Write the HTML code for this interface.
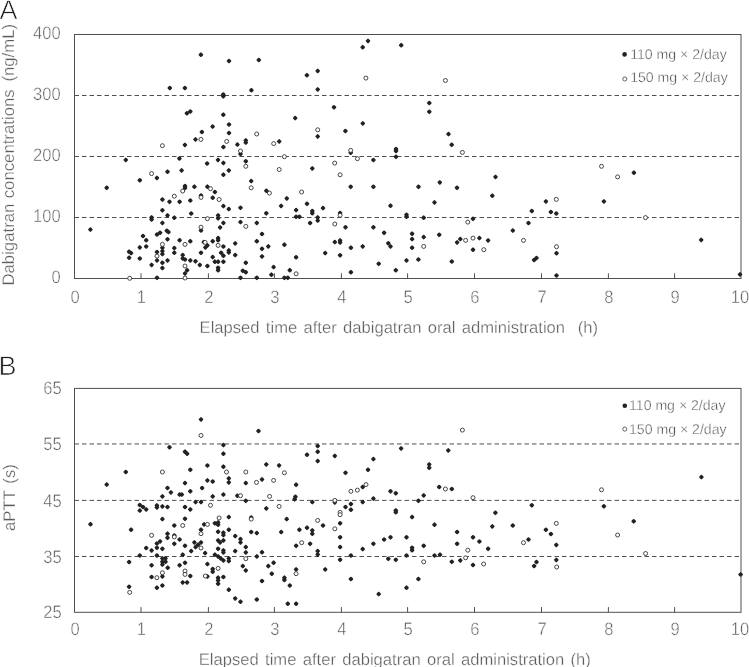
<!DOCTYPE html>
<html><head><meta charset="utf-8"><title>Figure</title>
<style>
html,body{margin:0;padding:0;background:#fff;}
svg{display:block;will-change:transform;}
text{white-space:pre;text-rendering:geometricPrecision;font-family:"Liberation Sans",sans-serif;fill:#5c5c5c;stroke:#fff;stroke-width:0.42px;paint-order:fill stroke;}
.t16{font-size:16.6px}
.t17{font-size:16.75px;stroke-width:0.3px}
.t17x{font-size:16.6px;word-spacing:1.7px;stroke-width:0.3px}
.t13{font-size:14.1px;fill:#3c3c3c}
.big{font-size:27px;fill:#1c1c1c;stroke-width:0.7px}
</style></head><body>
<svg width="749" height="667" viewBox="0 0 749 667">
<rect width="749" height="667" fill="#fff"/>
<g stroke="#505050" stroke-width="1" fill="none">
<line x1="74.5" y1="95.5" x2="741.0" y2="95.5" stroke-dasharray="4.5 3"/>
<line x1="74.5" y1="156.5" x2="741.0" y2="156.5" stroke-dasharray="4.5 3"/>
<line x1="74.5" y1="217.5" x2="741.0" y2="217.5" stroke-dasharray="4.5 3"/>
<rect x="74.5" y="34.5" width="666.5" height="244.0"/>
<line x1="141.0" y1="278.5" x2="141.0" y2="273.3"/>
<line x1="208.4" y1="278.5" x2="208.4" y2="273.3"/>
<line x1="274.4" y1="278.5" x2="274.4" y2="273.3"/>
<line x1="341.4" y1="278.5" x2="341.4" y2="273.3"/>
<line x1="407.6" y1="278.5" x2="407.6" y2="273.3"/>
<line x1="474.5" y1="278.5" x2="474.5" y2="273.3"/>
<line x1="541.5" y1="278.5" x2="541.5" y2="273.3"/>
<line x1="608.4" y1="278.5" x2="608.4" y2="273.3"/>
<line x1="674.6" y1="278.5" x2="674.6" y2="273.3"/>
</g>
<text transform="translate(75.0 303.3) scale(1 1.085)" text-anchor="middle" class="t16">0</text>
<text transform="translate(141.4 303.3) scale(1 1.085)" text-anchor="middle" class="t16">1</text>
<text transform="translate(208.8 303.3) scale(1 1.085)" text-anchor="middle" class="t16">2</text>
<text transform="translate(274.8 303.3) scale(1 1.085)" text-anchor="middle" class="t16">3</text>
<text transform="translate(341.8 303.3) scale(1 1.085)" text-anchor="middle" class="t16">4</text>
<text transform="translate(408.1 303.3) scale(1 1.085)" text-anchor="middle" class="t16">5</text>
<text transform="translate(474.9 303.3) scale(1 1.085)" text-anchor="middle" class="t16">6</text>
<text transform="translate(542.0 303.3) scale(1 1.085)" text-anchor="middle" class="t16">7</text>
<text transform="translate(608.9 303.3) scale(1 1.085)" text-anchor="middle" class="t16">8</text>
<text transform="translate(675.1 303.3) scale(1 1.085)" text-anchor="middle" class="t16">9</text>
<text transform="translate(740.1 303.3) scale(1 1.085)" text-anchor="middle" class="t16">10</text>
<text transform="translate(60.8 283.1) scale(1 1.085)" text-anchor="end" class="t16">0</text>
<text transform="translate(60.8 222.1) scale(1 1.085)" text-anchor="end" class="t16">100</text>
<text transform="translate(60.8 161.1) scale(1 1.085)" text-anchor="end" class="t16">200</text>
<text transform="translate(60.8 100.1) scale(1 1.085)" text-anchor="end" class="t16">300</text>
<text transform="translate(60.8 39.1) scale(1 1.085)" text-anchor="end" class="t16">400</text>
<text x="199.6" y="333.0" class="t17x" xml:space="preserve">Elapsed time after dabigatran oral administration  (h)</text>
<text transform="translate(13.6 285.6) rotate(-90)" class="t17" xml:space="preserve">Dabigatran<tspan dx='0.7'> concentrations</tspan><tspan dx='3.1'> (ng/mL)</tspan></text>
<text x="-0.5" y="18.6" class="big">A</text>
<circle cx="624.6" cy="54.4" r="2.3" fill="#222222"/>
<circle cx="624.8" cy="79.0" r="2.05" fill="#fff" stroke="#4a4a4a" stroke-width="0.85"/>
<text x="630.2" y="59.2" class="t13" xml:space="preserve">110 mg × 2/day</text>
<text x="630.2" y="82.2" class="t13" xml:space="preserve">150 mg × 2/day</text>
<g fill="#222222" stroke="#222222" stroke-width="2.0" stroke-linejoin="round">
<path d="M199.6 54.7L200.9 53.4L202.2 54.7L200.9 56.0Z"/>
<path d="M168.5 88.0L169.8 86.7L171.1 88.0L169.8 89.3Z"/>
<path d="M183.6 88.0L184.9 86.7L186.2 88.0L184.9 89.3Z"/>
<path d="M185.6 113.3L186.9 112.0L188.2 113.3L186.9 114.6Z"/>
<path d="M189.0 111.5L190.3 110.2L191.6 111.5L190.3 112.8Z"/>
<path d="M211.3 126.6L212.6 125.3L213.9 126.6L212.6 127.9Z"/>
<path d="M200.6 132.0L201.9 130.7L203.2 132.0L201.9 133.3Z"/>
<path d="M194.2 139.4L195.5 138.1L196.8 139.4L195.5 140.7Z"/>
<path d="M183.6 144.9L184.9 143.6L186.2 144.9L184.9 146.2Z"/>
<path d="M124.5 159.9L125.8 158.6L127.1 159.9L125.8 161.2Z"/>
<path d="M178.1 158.5L179.4 157.2L180.7 158.5L179.4 159.8Z"/>
<path d="M216.7 159.9L218.0 158.6L219.3 159.9L218.0 161.2Z"/>
<path d="M205.8 163.5L207.1 162.2L208.4 163.5L207.1 164.8Z"/>
<path d="M166.2 171.7L167.5 170.4L168.8 171.7L167.5 173.0Z"/>
<path d="M155.6 177.9L156.9 176.6L158.2 177.9L156.9 179.2Z"/>
<path d="M138.5 180.3L139.8 179.0L141.1 180.3L139.8 181.6Z"/>
<path d="M105.4 187.8L106.7 186.5L108.0 187.8L106.7 189.1Z"/>
<path d="M161.1 199.5L162.4 198.2L163.7 199.5L162.4 200.8Z"/>
<path d="M168.2 201.8L169.5 200.5L170.8 201.8L169.5 203.1Z"/>
<path d="M161.1 210.3L162.4 209.0L163.7 210.3L162.4 211.6Z"/>
<path d="M166.2 215.4L167.5 214.1L168.8 215.4L167.5 216.7Z"/>
<path d="M150.3 217.4L151.6 216.1L152.9 217.4L151.6 218.7Z"/>
<path d="M150.3 219.5L151.6 218.2L152.9 219.5L151.6 220.8Z"/>
<path d="M161.1 222.9L162.4 221.6L163.7 222.9L162.4 224.2Z"/>
<path d="M89.1 229.6L90.4 228.3L91.7 229.6L90.4 230.9Z"/>
<path d="M165.5 230.8L166.8 229.5L168.1 230.8L166.8 232.1Z"/>
<path d="M167.2 232.1L168.5 230.8L169.8 232.1L168.5 233.4Z"/>
<path d="M155.7 234.5L157.0 233.2L158.3 234.5L157.0 235.8Z"/>
<path d="M158.8 232.8L160.1 231.5L161.4 232.8L160.1 234.1Z"/>
<path d="M141.7 236.0L143.0 234.7L144.3 236.0L143.0 237.3Z"/>
<path d="M144.9 240.2L146.2 238.9L147.5 240.2L146.2 241.5Z"/>
<path d="M166.2 239.3L167.5 238.0L168.8 239.3L167.5 240.6Z"/>
<path d="M138.5 247.4L139.8 246.1L141.1 247.4L139.8 248.7Z"/>
<path d="M144.9 246.5L146.2 245.2L147.5 246.5L146.2 247.8Z"/>
<path d="M161.1 247.7L162.4 246.4L163.7 247.7L162.4 249.0Z"/>
<path d="M222.1 162.9L223.4 161.6L224.7 162.9L223.4 164.2Z"/>
<path d="M244.5 161.3L245.8 160.0L247.1 161.3L245.8 162.6Z"/>
<path d="M180.3 170.4L181.6 169.1L182.9 170.4L181.6 171.7Z"/>
<path d="M227.5 170.4L228.8 169.1L230.1 170.4L228.8 171.7Z"/>
<path d="M222.1 174.7L223.4 173.4L224.7 174.7L223.4 176.0Z"/>
<path d="M249.9 181.1L251.2 179.8L252.5 181.1L251.2 182.4Z"/>
<path d="M183.7 186.0L185.0 184.7L186.3 186.0L185.0 187.3Z"/>
<path d="M183.7 188.0L185.0 186.7L186.3 188.0L185.0 189.3Z"/>
<path d="M193.1 186.7L194.4 185.4L195.7 186.7L194.4 188.0Z"/>
<path d="M206.1 186.7L207.4 185.4L208.7 186.7L207.4 188.0Z"/>
<path d="M213.6 192.0L214.9 190.7L216.2 192.0L214.9 193.3Z"/>
<path d="M199.7 195.5L201.0 194.2L202.3 195.5L201.0 196.8Z"/>
<path d="M211.4 197.7L212.7 196.4L214.0 197.7L212.7 199.0Z"/>
<path d="M178.3 201.8L179.6 200.5L180.9 201.8L179.6 203.1Z"/>
<path d="M189.0 200.5L190.3 199.2L191.6 200.5L190.3 201.8Z"/>
<path d="M222.1 206.1L223.4 204.8L224.7 206.1L223.4 207.4Z"/>
<path d="M227.5 209.1L228.8 207.8L230.1 209.1L228.8 210.4Z"/>
<path d="M239.2 207.8L240.5 206.5L241.8 207.8L240.5 209.1Z"/>
<path d="M189.9 213.5L191.2 212.2L192.5 213.5L191.2 214.8Z"/>
<path d="M173.0 217.7L174.3 216.4L175.6 217.7L174.3 219.0Z"/>
<path d="M216.8 215.4L218.1 214.1L219.4 215.4L218.1 216.7Z"/>
<path d="M216.8 218.3L218.1 217.0L219.4 218.3L218.1 219.6Z"/>
<path d="M222.1 222.9L223.4 221.6L224.7 222.9L223.4 224.2Z"/>
<path d="M239.2 222.1L240.5 220.8L241.8 222.1L240.5 223.4Z"/>
<path d="M255.5 222.9L256.8 221.6L258.1 222.9L256.8 224.2Z"/>
<path d="M218.8 227.4L220.1 226.1L221.4 227.4L220.1 228.7Z"/>
<path d="M199.7 230.5L201.0 229.2L202.3 230.5L201.0 231.8Z"/>
<path d="M178.3 240.2L179.6 238.9L180.9 240.2L179.6 241.5Z"/>
<path d="M189.0 241.2L190.3 239.9L191.6 241.2L190.3 242.5Z"/>
<path d="M173.0 248.1L174.3 246.8L175.6 248.1L174.3 249.4Z"/>
<path d="M202.5 242.1L203.8 240.8L205.1 242.1L203.8 243.4Z"/>
<path d="M211.4 241.2L212.7 239.9L214.0 241.2L212.7 242.5Z"/>
<path d="M216.8 238.1L218.1 236.8L219.4 238.1L218.1 239.4Z"/>
<path d="M216.8 240.2L218.1 238.9L219.4 240.2L218.1 241.5Z"/>
<path d="M206.1 245.4L207.4 244.1L208.7 245.4L207.4 246.7Z"/>
<path d="M204.1 247.4L205.4 246.1L206.7 247.4L205.4 248.7Z"/>
<path d="M222.1 246.5L223.4 245.2L224.7 246.5L223.4 247.8Z"/>
<path d="M233.9 243.4L235.2 242.1L236.5 243.4L235.2 244.7Z"/>
<path d="M255.5 241.2L256.8 239.9L258.1 241.2L256.8 242.5Z"/>
<path d="M161.1 251.1L162.4 249.8L163.7 251.1L162.4 252.4Z"/>
<path d="M161.1 254.1L162.4 252.8L163.7 254.1L162.4 255.4Z"/>
<path d="M127.8 251.7L129.1 250.4L130.4 251.7L129.1 253.0Z"/>
<path d="M129.8 253.1L131.1 251.8L132.4 253.1L131.1 254.4Z"/>
<path d="M127.8 257.7L129.1 256.4L130.4 257.7L129.1 259.0Z"/>
<path d="M138.5 258.5L139.8 257.2L141.1 258.5L139.8 259.8Z"/>
<path d="M155.7 252.0L157.0 250.7L158.3 252.0L157.0 253.3Z"/>
<path d="M155.7 260.4L157.0 259.1L158.3 260.4L157.0 261.7Z"/>
<path d="M166.2 260.4L167.5 259.1L168.8 260.4L167.5 261.7Z"/>
<path d="M161.1 262.8L162.4 261.5L163.7 262.8L162.4 264.1Z"/>
<path d="M150.3 264.9L151.6 263.6L152.9 264.9L151.6 266.2Z"/>
<path d="M161.1 268.0L162.4 266.7L163.7 268.0L162.4 269.3Z"/>
<path d="M155.7 277.8L157.0 276.5L158.3 277.8L157.0 279.1Z"/>
<path d="M173.0 252.7L174.3 251.4L175.6 252.7L174.3 254.0Z"/>
<path d="M181.4 255.1L182.7 253.8L184.0 255.1L182.7 256.4Z"/>
<path d="M181.4 258.4L182.7 257.1L184.0 258.4L182.7 259.7Z"/>
<path d="M183.7 259.5L185.0 258.2L186.3 259.5L185.0 260.8Z"/>
<path d="M189.0 260.4L190.3 259.1L191.6 260.4L190.3 261.7Z"/>
<path d="M194.2 261.3L195.5 260.0L196.8 261.3L195.5 262.6Z"/>
<path d="M198.5 264.9L199.8 263.6L201.1 264.9L199.8 266.2Z"/>
<path d="M199.7 252.8L201.0 251.5L202.3 252.8L201.0 254.1Z"/>
<path d="M206.1 266.0L207.4 264.7L208.7 266.0L207.4 267.3Z"/>
<path d="M211.4 257.1L212.7 255.8L214.0 257.1L212.7 258.4Z"/>
<path d="M213.6 261.7L214.9 260.4L216.2 261.7L214.9 263.0Z"/>
<path d="M216.8 261.7L218.1 260.4L219.4 261.7L218.1 263.0Z"/>
<path d="M222.1 261.7L223.4 260.4L224.7 261.7L223.4 263.0Z"/>
<path d="M219.8 252.8L221.1 251.5L222.4 252.8L221.1 254.1Z"/>
<path d="M222.1 255.7L223.4 254.4L224.7 255.7L223.4 257.0Z"/>
<path d="M227.5 250.4L228.8 249.1L230.1 250.4L228.8 251.7Z"/>
<path d="M227.5 252.4L228.8 251.1L230.1 252.4L228.8 253.7Z"/>
<path d="M233.9 255.1L235.2 253.8L236.5 255.1L235.2 256.4Z"/>
<path d="M216.8 267.8L218.1 266.5L219.4 267.8L218.1 269.1Z"/>
<path d="M216.8 270.2L218.1 268.9L219.4 270.2L218.1 271.5Z"/>
<path d="M185.8 270.2L187.1 268.9L188.4 270.2L187.1 271.5Z"/>
<path d="M183.7 273.4L185.0 272.1L186.3 273.4L185.0 274.7Z"/>
<path d="M244.5 262.8L245.8 261.5L247.1 262.8L245.8 264.1Z"/>
<path d="M241.5 270.8L242.8 269.5L244.1 270.8L242.8 272.1Z"/>
<path d="M244.5 272.2L245.8 270.9L247.1 272.2L245.8 273.5Z"/>
<path d="M239.2 277.8L240.5 276.5L241.8 277.8L240.5 279.1Z"/>
<path d="M255.5 277.8L256.8 276.5L258.1 277.8L256.8 279.1Z"/>
<path d="M227.7 61.0L229.0 59.7L230.3 61.0L229.0 62.3Z"/>
<path d="M257.5 60.0L258.8 58.7L260.1 60.0L258.8 61.3Z"/>
<path d="M316.4 70.9L317.7 69.6L319.0 70.9L317.7 72.2Z"/>
<path d="M305.6 75.2L306.9 73.9L308.2 75.2L306.9 76.5Z"/>
<path d="M316.4 89.4L317.7 88.1L319.0 89.4L317.7 90.7Z"/>
<path d="M250.1 90.2L251.4 88.9L252.7 90.2L251.4 91.5Z"/>
<path d="M222.0 94.5L223.3 93.2L224.6 94.5L223.3 95.8Z"/>
<path d="M222.0 96.3L223.3 95.0L224.6 96.3L223.3 97.6Z"/>
<path d="M332.7 107.3L334.0 106.0L335.3 107.3L334.0 108.6Z"/>
<path d="M222.0 114.7L223.3 113.4L224.6 114.7L223.3 116.0Z"/>
<path d="M293.9 118.1L295.2 116.8L296.5 118.1L295.2 119.4Z"/>
<path d="M227.7 124.5L229.0 123.2L230.3 124.5L229.0 125.8Z"/>
<path d="M227.7 133.0L229.0 131.7L230.3 133.0L229.0 134.3Z"/>
<path d="M316.4 136.4L317.7 135.1L319.0 136.4L317.7 137.7Z"/>
<path d="M244.5 140.4L245.8 139.1L247.1 140.4L245.8 141.7Z"/>
<path d="M244.5 142.6L245.8 141.3L247.1 142.6L245.8 143.9Z"/>
<path d="M277.9 141.4L279.2 140.1L280.5 141.4L279.2 142.7Z"/>
<path d="M236.1 144.6L237.4 143.3L238.7 144.6L237.4 145.9Z"/>
<path d="M222.1 147.0L223.4 145.7L224.7 147.0L223.4 148.3Z"/>
<path d="M239.2 154.0L240.5 152.7L241.8 154.0L240.5 155.3Z"/>
<path d="M265.1 190.8L266.4 189.5L267.7 190.8L266.4 192.1Z"/>
<path d="M285.5 198.4L286.8 197.1L288.1 198.4L286.8 199.7Z"/>
<path d="M361.5 123.4L362.8 122.1L364.1 123.4L362.8 124.7Z"/>
<path d="M344.1 131.0L345.4 129.7L346.7 131.0L345.4 132.3Z"/>
<path d="M349.4 152.8L350.7 151.5L352.0 152.8L350.7 154.1Z"/>
<path d="M372.1 160.0L373.4 158.7L374.7 160.0L373.4 161.3Z"/>
<path d="M311.0 168.4L312.3 167.1L313.6 168.4L312.3 169.7Z"/>
<path d="M349.4 186.8L350.7 185.5L352.0 186.8L350.7 188.1Z"/>
<path d="M372.1 186.8L373.4 185.5L374.7 186.8L373.4 188.1Z"/>
<path d="M305.7 203.8L307.0 202.5L308.3 203.8L307.0 205.1Z"/>
<path d="M447.2 134.1L448.5 132.8L449.8 134.1L448.5 135.4Z"/>
<path d="M450.4 144.8L451.7 143.5L453.0 144.8L451.7 146.1Z"/>
<path d="M394.7 149.0L396.0 147.7L397.3 149.0L396.0 150.3Z"/>
<path d="M394.7 151.0L396.0 149.7L397.3 151.0L396.0 152.3Z"/>
<path d="M394.7 156.8L396.0 155.5L397.3 156.8L396.0 158.1Z"/>
<path d="M417.2 186.8L418.5 185.5L419.8 186.8L418.5 188.1Z"/>
<path d="M438.5 182.4L439.8 181.1L441.1 182.4L439.8 183.7Z"/>
<path d="M455.7 187.8L457.0 186.5L458.3 187.8L457.0 189.1Z"/>
<path d="M433.2 202.4L434.5 201.1L435.8 202.4L434.5 203.7Z"/>
<path d="M366.7 40.9L368.0 39.6L369.3 40.9L368.0 42.2Z"/>
<path d="M361.4 47.2L362.7 45.9L364.0 47.2L362.7 48.5Z"/>
<path d="M399.9 45.2L401.2 43.9L402.5 45.2L401.2 46.5Z"/>
<path d="M428.0 103.0L429.3 101.7L430.6 103.0L429.3 104.3Z"/>
<path d="M428.0 111.8L429.3 110.5L430.6 111.8L429.3 113.1Z"/>
<path d="M279.8 205.9L281.1 204.6L282.4 205.9L281.1 207.2Z"/>
<path d="M294.8 210.1L296.1 208.8L297.4 210.1L296.1 211.4Z"/>
<path d="M321.7 208.1L323.0 206.8L324.3 208.1L323.0 209.4Z"/>
<path d="M311.0 211.0L312.3 209.7L313.6 211.0L312.3 212.3Z"/>
<path d="M311.0 213.2L312.3 211.9L313.6 213.2L312.3 214.5Z"/>
<path d="M265.0 213.3L266.3 212.0L267.6 213.3L266.3 214.6Z"/>
<path d="M294.8 216.8L296.1 215.5L297.4 216.8L296.1 218.1Z"/>
<path d="M298.1 216.8L299.4 215.5L300.7 216.8L299.4 218.1Z"/>
<path d="M316.4 217.4L317.7 216.1L319.0 217.4L317.7 218.7Z"/>
<path d="M316.4 220.6L317.7 219.3L319.0 220.6L317.7 221.9Z"/>
<path d="M338.8 213.0L340.1 211.7L341.4 213.0L340.1 214.3Z"/>
<path d="M308.8 223.0L310.1 221.7L311.4 223.0L310.1 224.3Z"/>
<path d="M344.2 227.3L345.5 226.0L346.8 227.3L345.5 228.6Z"/>
<path d="M260.7 234.0L262.0 232.7L263.3 234.0L262.0 235.3Z"/>
<path d="M283.1 244.7L284.4 243.4L285.7 244.7L284.4 246.0Z"/>
<path d="M267.0 246.4L268.3 245.1L269.6 246.4L268.3 247.7Z"/>
<path d="M260.7 248.8L262.0 247.5L263.3 248.8L262.0 250.1Z"/>
<path d="M260.7 256.4L262.0 255.1L263.3 256.4L262.0 257.7Z"/>
<path d="M333.5 242.1L334.8 240.8L336.1 242.1L334.8 243.4Z"/>
<path d="M338.8 240.4L340.1 239.1L341.4 240.4L340.1 241.7Z"/>
<path d="M338.8 242.5L340.1 241.2L341.4 242.5L340.1 243.8Z"/>
<path d="M323.9 253.1L325.2 251.8L326.5 253.1L325.2 254.4Z"/>
<path d="M338.8 255.3L340.1 254.0L341.4 255.3L340.1 256.6Z"/>
<path d="M294.8 257.3L296.1 256.0L297.4 257.3L296.1 258.6Z"/>
<path d="M272.3 267.1L273.6 265.8L274.9 267.1L273.6 268.4Z"/>
<path d="M288.5 270.2L289.8 268.9L291.1 270.2L289.8 271.5Z"/>
<path d="M270.1 274.7L271.4 273.4L272.7 274.7L271.4 276.0Z"/>
<path d="M283.1 277.8L284.4 276.5L285.7 277.8L284.4 279.1Z"/>
<path d="M286.5 277.8L287.8 276.5L289.1 277.8L287.8 279.1Z"/>
<path d="M389.2 205.7L390.5 204.4L391.8 205.7L390.5 207.0Z"/>
<path d="M405.2 214.8L406.5 213.5L407.8 214.8L406.5 216.1Z"/>
<path d="M405.2 216.8L406.5 215.5L407.8 216.8L406.5 218.1Z"/>
<path d="M422.4 217.7L423.7 216.4L425.0 217.7L423.7 219.0Z"/>
<path d="M372.1 227.3L373.4 226.0L374.7 227.3L373.4 228.6Z"/>
<path d="M382.8 232.8L384.1 231.5L385.4 232.8L384.1 234.1Z"/>
<path d="M410.8 233.7L412.1 232.4L413.4 233.7L412.1 235.0Z"/>
<path d="M410.8 239.1L412.1 237.8L413.4 239.1L412.1 240.4Z"/>
<path d="M422.4 237.1L423.7 235.8L425.0 237.1L423.7 238.4Z"/>
<path d="M437.9 234.8L439.2 233.5L440.5 234.8L439.2 236.1Z"/>
<path d="M387.0 243.3L388.3 242.0L389.6 243.3L388.3 244.6Z"/>
<path d="M389.2 246.4L390.5 245.1L391.8 246.4L390.5 247.7Z"/>
<path d="M361.4 246.4L362.7 245.1L364.0 246.4L362.7 247.7Z"/>
<path d="M349.6 247.7L350.9 246.4L352.2 247.7L350.9 249.0Z"/>
<path d="M410.8 247.7L412.1 246.4L413.4 247.7L412.1 249.0Z"/>
<path d="M405.2 260.4L406.5 259.1L407.8 260.4L406.5 261.7Z"/>
<path d="M417.1 259.5L418.4 258.2L419.7 259.5L418.4 260.8Z"/>
<path d="M377.4 263.8L378.7 262.5L380.0 263.8L378.7 265.1Z"/>
<path d="M394.5 270.2L395.8 268.9L397.1 270.2L395.8 271.5Z"/>
<path d="M349.6 272.2L350.9 270.9L352.2 272.2L350.9 273.5Z"/>
<path d="M491.0 195.7L492.3 194.4L493.6 195.7L492.3 197.0Z"/>
<path d="M471.7 218.8L473.0 217.5L474.3 218.8L473.0 220.1Z"/>
<path d="M527.2 223.0L528.5 221.7L529.8 223.0L528.5 224.3Z"/>
<path d="M511.5 230.6L512.8 229.3L514.1 230.6L512.8 231.9Z"/>
<path d="M459.0 239.1L460.3 237.8L461.6 239.1L460.3 240.4Z"/>
<path d="M455.8 242.4L457.1 241.1L458.4 242.4L457.1 243.7Z"/>
<path d="M478.1 238.1L479.4 236.8L480.7 238.1L479.4 239.4Z"/>
<path d="M486.8 240.4L488.1 239.1L489.4 240.4L488.1 241.7Z"/>
<path d="M471.7 249.7L473.0 248.4L474.3 249.7L473.0 251.0Z"/>
<path d="M450.5 261.5L451.8 260.2L453.1 261.5L451.8 262.8Z"/>
<path d="M494.2 176.9L495.5 175.6L496.8 176.9L495.5 178.2Z"/>
<path d="M544.6 201.4L545.9 200.1L547.2 201.4L545.9 202.7Z"/>
<path d="M602.6 201.4L603.9 200.1L605.2 201.4L603.9 202.7Z"/>
<path d="M530.5 211.0L531.8 209.7L533.1 211.0L531.8 212.3Z"/>
<path d="M549.6 212.0L550.9 210.7L552.2 212.0L550.9 213.3Z"/>
<path d="M555.0 213.5L556.3 212.2L557.6 213.5L556.3 214.8Z"/>
<path d="M632.6 172.7L633.9 171.4L635.2 172.7L633.9 174.0Z"/>
<path d="M555.2 253.2L556.5 251.9L557.8 253.2L556.5 254.5Z"/>
<path d="M532.8 260.0L534.1 258.7L535.4 260.0L534.1 261.3Z"/>
<path d="M535.2 258.0L536.5 256.7L537.8 258.0L536.5 259.3Z"/>
<path d="M555.2 275.5L556.5 274.2L557.8 275.5L556.5 276.8Z"/>
<path d="M699.9 239.9L701.2 238.6L702.5 239.9L701.2 241.2Z"/>
<path d="M738.7 274.4L740.0 273.1L741.3 274.4L740.0 275.7Z"/>
</g>
<g fill="#fff" stroke="#333" stroke-width="0.9">
<circle cx="200.9" cy="139.4" r="2.0"/>
<circle cx="162.4" cy="145.7" r="2.0"/>
<circle cx="151.6" cy="173.6" r="2.0"/>
<circle cx="162.4" cy="244.4" r="2.0"/>
<circle cx="245.8" cy="166.3" r="2.0"/>
<circle cx="251.2" cy="187.8" r="2.0"/>
<circle cx="182.7" cy="191.0" r="2.0"/>
<circle cx="210.5" cy="188.7" r="2.0"/>
<circle cx="174.3" cy="196.2" r="2.0"/>
<circle cx="201.0" cy="197.4" r="2.0"/>
<circle cx="219.1" cy="199.5" r="2.0"/>
<circle cx="207.4" cy="218.7" r="2.0"/>
<circle cx="245.8" cy="226.4" r="2.0"/>
<circle cx="201.0" cy="227.2" r="2.0"/>
<circle cx="185.0" cy="244.4" r="2.0"/>
<circle cx="205.1" cy="242.4" r="2.0"/>
<circle cx="218.1" cy="245.4" r="2.0"/>
<circle cx="157.0" cy="256.1" r="2.0"/>
<circle cx="129.7" cy="278.3" r="2.0"/>
<circle cx="185.0" cy="266.0" r="2.0"/>
<circle cx="185.0" cy="278.0" r="2.0"/>
<circle cx="256.7" cy="134.0" r="2.0"/>
<circle cx="317.7" cy="129.8" r="2.0"/>
<circle cx="226.7" cy="141.4" r="2.0"/>
<circle cx="273.7" cy="143.6" r="2.0"/>
<circle cx="240.5" cy="151.0" r="2.0"/>
<circle cx="284.4" cy="156.7" r="2.0"/>
<circle cx="279.2" cy="169.5" r="2.0"/>
<circle cx="269.4" cy="193.1" r="2.0"/>
<circle cx="350.7" cy="150.4" r="2.0"/>
<circle cx="357.4" cy="158.7" r="2.0"/>
<circle cx="334.7" cy="163.1" r="2.0"/>
<circle cx="340.1" cy="174.8" r="2.0"/>
<circle cx="301.6" cy="192.0" r="2.0"/>
<circle cx="462.4" cy="152.4" r="2.0"/>
<circle cx="365.9" cy="78.1" r="2.0"/>
<circle cx="445.4" cy="80.5" r="2.0"/>
<circle cx="340.1" cy="215.3" r="2.0"/>
<circle cx="334.8" cy="224.0" r="2.0"/>
<circle cx="296.1" cy="273.8" r="2.0"/>
<circle cx="423.7" cy="246.4" r="2.0"/>
<circle cx="467.8" cy="222.1" r="2.0"/>
<circle cx="465.6" cy="240.4" r="2.0"/>
<circle cx="473.0" cy="238.1" r="2.0"/>
<circle cx="523.5" cy="240.4" r="2.0"/>
<circle cx="483.8" cy="249.7" r="2.0"/>
<circle cx="601.5" cy="166.3" r="2.0"/>
<circle cx="617.6" cy="176.9" r="2.0"/>
<circle cx="556.3" cy="199.4" r="2.0"/>
<circle cx="645.5" cy="217.6" r="2.0"/>
<circle cx="556.5" cy="246.7" r="2.0"/>
</g>
<g stroke="#505050" stroke-width="1" fill="none">
<line x1="74.5" y1="443.95" x2="741.0" y2="443.95" stroke-dasharray="4.5 3"/>
<line x1="74.5" y1="500.4" x2="741.0" y2="500.4" stroke-dasharray="4.5 3"/>
<line x1="74.5" y1="556.5" x2="741.0" y2="556.5" stroke-dasharray="4.5 3"/>
<rect x="74.5" y="388.4" width="666.5" height="223.9"/>
<line x1="141.0" y1="612.3" x2="141.0" y2="607.0999999999999"/>
<line x1="208.4" y1="612.3" x2="208.4" y2="607.0999999999999"/>
<line x1="274.4" y1="612.3" x2="274.4" y2="607.0999999999999"/>
<line x1="341.4" y1="612.3" x2="341.4" y2="607.0999999999999"/>
<line x1="407.6" y1="612.3" x2="407.6" y2="607.0999999999999"/>
<line x1="474.5" y1="612.3" x2="474.5" y2="607.0999999999999"/>
<line x1="541.5" y1="612.3" x2="541.5" y2="607.0999999999999"/>
<line x1="608.4" y1="612.3" x2="608.4" y2="607.0999999999999"/>
<line x1="674.6" y1="612.3" x2="674.6" y2="607.0999999999999"/>
</g>
<text transform="translate(75.0 635.2) scale(1 1.085)" text-anchor="middle" class="t16">0</text>
<text transform="translate(141.4 635.2) scale(1 1.085)" text-anchor="middle" class="t16">1</text>
<text transform="translate(208.8 635.2) scale(1 1.085)" text-anchor="middle" class="t16">2</text>
<text transform="translate(274.8 635.2) scale(1 1.085)" text-anchor="middle" class="t16">3</text>
<text transform="translate(341.8 635.2) scale(1 1.085)" text-anchor="middle" class="t16">4</text>
<text transform="translate(408.1 635.2) scale(1 1.085)" text-anchor="middle" class="t16">5</text>
<text transform="translate(474.9 635.2) scale(1 1.085)" text-anchor="middle" class="t16">6</text>
<text transform="translate(542.0 635.2) scale(1 1.085)" text-anchor="middle" class="t16">7</text>
<text transform="translate(608.9 635.2) scale(1 1.085)" text-anchor="middle" class="t16">8</text>
<text transform="translate(675.1 635.2) scale(1 1.085)" text-anchor="middle" class="t16">9</text>
<text transform="translate(740.1 635.2) scale(1 1.085)" text-anchor="middle" class="t16">10</text>
<text transform="translate(61.8 618.1) scale(1 1.085)" text-anchor="end" class="t16">25</text>
<text transform="translate(61.8 562.6) scale(1 1.085)" text-anchor="end" class="t16">35</text>
<text transform="translate(61.8 506.8) scale(1 1.085)" text-anchor="end" class="t16">45</text>
<text transform="translate(61.8 449.9) scale(1 1.085)" text-anchor="end" class="t16">55</text>
<text transform="translate(61.8 393.7) scale(1 1.085)" text-anchor="end" class="t16">65</text>
<text x="198.8" y="664.6" class="t17x" xml:space="preserve">Elapsed time after dabigatran oral administration (h)</text>
<text transform="translate(14.8 531) rotate(-90)" class="t17" xml:space="preserve">aPTT<tspan dx='2'> (s)</tspan></text>
<text x="-1.6" y="375" class="big">B</text>
<circle cx="624.8" cy="405.8" r="2.3" fill="#222222"/>
<circle cx="624.8" cy="429.1" r="2.05" fill="#fff" stroke="#4a4a4a" stroke-width="0.85"/>
<text x="629.0" y="410.3" class="t13" xml:space="preserve">110 mg × 2/day</text>
<text x="629.0" y="433.6" class="t13" xml:space="preserve">150 mg × 2/day</text>
<g fill="#222222" stroke="#222222" stroke-width="2.0" stroke-linejoin="round">
<path d="M89.2 524.2L90.5 522.9L91.8 524.2L90.5 525.5Z"/>
<path d="M105.4 484.6L106.7 483.3L108.0 484.6L106.7 485.9Z"/>
<path d="M124.5 472.0L125.8 470.7L127.1 472.0L125.8 473.3Z"/>
<path d="M168.2 447.3L169.5 446.0L170.8 447.3L169.5 448.6Z"/>
<path d="M199.7 419.4L201.0 418.1L202.3 419.4L201.0 420.7Z"/>
<path d="M257.2 431.0L258.5 429.7L259.8 431.0L258.5 432.3Z"/>
<path d="M222.1 445.1L223.4 443.8L224.7 445.1L223.4 446.4Z"/>
<path d="M183.7 451.7L185.0 450.4L186.3 451.7L185.0 453.0Z"/>
<path d="M185.8 453.7L187.1 452.4L188.4 453.7L187.1 455.0Z"/>
<path d="M222.1 453.7L223.4 452.4L224.7 453.7L223.4 455.0Z"/>
<path d="M206.1 465.5L207.4 464.2L208.7 465.5L207.4 466.8Z"/>
<path d="M222.1 466.7L223.4 465.4L224.7 466.7L223.4 468.0Z"/>
<path d="M189.0 469.8L190.3 468.5L191.6 469.8L190.3 471.1Z"/>
<path d="M227.5 478.4L228.8 477.1L230.1 478.4L228.8 479.7Z"/>
<path d="M227.5 482.4L228.8 481.1L230.1 482.4L228.8 483.7Z"/>
<path d="M206.1 480.4L207.4 479.1L208.7 480.4L207.4 481.7Z"/>
<path d="M211.4 481.5L212.7 480.2L214.0 481.5L212.7 482.8Z"/>
<path d="M183.7 483.1L185.0 481.8L186.3 483.1L185.0 484.4Z"/>
<path d="M244.5 483.1L245.8 481.8L247.1 483.1L245.8 484.4Z"/>
<path d="M316.4 446.0L317.7 444.7L319.0 446.0L317.7 447.3Z"/>
<path d="M316.4 451.7L317.7 450.4L319.0 451.7L317.7 453.0Z"/>
<path d="M305.7 454.7L307.0 453.4L308.3 454.7L307.0 456.0Z"/>
<path d="M333.5 455.9L334.8 454.6L336.1 455.9L334.8 457.2Z"/>
<path d="M316.4 461.1L317.7 459.8L319.0 461.1L317.7 462.4Z"/>
<path d="M265.0 464.4L266.3 463.1L267.6 464.4L266.3 465.7Z"/>
<path d="M277.8 465.4L279.1 464.1L280.4 465.4L279.1 466.7Z"/>
<path d="M344.2 472.8L345.5 471.5L346.8 472.8L345.5 474.1Z"/>
<path d="M260.7 479.4L262.0 478.1L263.3 479.4L262.0 480.7Z"/>
<path d="M399.8 448.4L401.1 447.1L402.4 448.4L401.1 449.7Z"/>
<path d="M372.1 459.1L373.4 457.8L374.7 459.1L373.4 460.4Z"/>
<path d="M427.9 464.4L429.2 463.1L430.5 464.4L429.2 465.7Z"/>
<path d="M427.9 467.8L429.2 466.5L430.5 467.8L429.2 469.1Z"/>
<path d="M366.7 469.8L368.0 468.5L369.3 469.8L368.0 471.1Z"/>
<path d="M447.0 450.4L448.3 449.1L449.6 450.4L448.3 451.7Z"/>
<path d="M166.2 488.0L167.5 486.7L168.8 488.0L167.5 489.3Z"/>
<path d="M161.1 496.4L162.4 495.1L163.7 496.4L162.4 497.7Z"/>
<path d="M138.5 505.0L139.8 503.7L141.1 505.0L139.8 506.3Z"/>
<path d="M141.7 507.0L143.0 505.7L144.3 507.0L143.0 508.3Z"/>
<path d="M144.9 509.4L146.2 508.1L147.5 509.4L146.2 510.7Z"/>
<path d="M138.5 510.6L139.8 509.3L141.1 510.6L139.8 511.9Z"/>
<path d="M155.6 505.4L156.9 504.1L158.2 505.4L156.9 506.7Z"/>
<path d="M155.6 507.4L156.9 506.1L158.2 507.4L156.9 508.7Z"/>
<path d="M161.1 506.4L162.4 505.1L163.7 506.4L162.4 507.7Z"/>
<path d="M166.2 507.0L167.5 505.7L168.8 507.0L167.5 508.3Z"/>
<path d="M161.1 519.1L162.4 517.8L163.7 519.1L162.4 520.4Z"/>
<path d="M129.8 529.7L131.1 528.4L132.4 529.7L131.1 531.0Z"/>
<path d="M166.2 533.7L167.5 532.4L168.8 533.7L167.5 535.0Z"/>
<path d="M166.2 537.8L167.5 536.5L168.8 537.8L167.5 539.1Z"/>
<path d="M158.8 541.4L160.1 540.1L161.4 541.4L160.1 542.7Z"/>
<path d="M155.6 543.5L156.9 542.2L158.2 543.5L156.9 544.8Z"/>
<path d="M155.6 547.8L156.9 546.5L158.2 547.8L156.9 549.1Z"/>
<path d="M144.9 548.0L146.2 546.7L147.5 548.0L146.2 549.3Z"/>
<path d="M150.3 550.4L151.6 549.1L152.9 550.4L151.6 551.7Z"/>
<path d="M161.1 548.8L162.4 547.5L163.7 548.8L162.4 550.1Z"/>
<path d="M138.5 555.5L139.8 554.2L141.1 555.5L139.8 556.8Z"/>
<path d="M155.6 555.5L156.9 554.2L158.2 555.5L156.9 556.8Z"/>
<path d="M127.8 562.0L129.1 560.7L130.4 562.0L129.1 563.3Z"/>
<path d="M169.6 492.4L170.9 491.1L172.2 492.4L170.9 493.7Z"/>
<path d="M200.8 488.0L202.1 486.7L203.4 488.0L202.1 489.3Z"/>
<path d="M189.0 491.3L190.3 490.0L191.6 491.3L190.3 492.6Z"/>
<path d="M178.3 494.6L179.6 493.3L180.9 494.6L179.6 495.9Z"/>
<path d="M180.5 494.6L181.8 493.3L183.1 494.6L181.8 495.9Z"/>
<path d="M211.4 496.4L212.7 495.1L214.0 496.4L212.7 497.7Z"/>
<path d="M222.1 494.6L223.4 493.3L224.7 494.6L223.4 495.9Z"/>
<path d="M236.1 495.7L237.4 494.4L238.7 495.7L237.4 497.0Z"/>
<path d="M244.5 500.8L245.8 499.5L247.1 500.8L245.8 502.1Z"/>
<path d="M194.3 502.1L195.6 500.8L196.9 502.1L195.6 503.4Z"/>
<path d="M199.7 502.1L201.0 500.8L202.3 502.1L201.0 503.4Z"/>
<path d="M183.7 507.0L185.0 505.7L186.3 507.0L185.0 508.3Z"/>
<path d="M189.0 509.4L190.3 508.1L191.6 509.4L190.3 510.7Z"/>
<path d="M183.7 518.8L185.0 517.5L186.3 518.8L185.0 520.1Z"/>
<path d="M227.5 517.1L228.8 515.8L230.1 517.1L228.8 518.4Z"/>
<path d="M249.9 517.5L251.2 516.2L252.5 517.5L251.2 518.8Z"/>
<path d="M173.0 525.5L174.3 524.2L175.6 525.5L174.3 526.8Z"/>
<path d="M202.8 524.4L204.1 523.1L205.4 524.4L204.1 525.7Z"/>
<path d="M213.6 523.3L214.9 522.0L216.2 523.3L214.9 524.6Z"/>
<path d="M216.8 522.4L218.1 521.1L219.4 522.4L218.1 523.7Z"/>
<path d="M216.8 524.7L218.1 523.4L219.4 524.7L218.1 526.0Z"/>
<path d="M199.7 529.7L201.0 528.4L202.3 529.7L201.0 531.0Z"/>
<path d="M227.5 529.7L228.8 528.4L230.1 529.7L228.8 531.0Z"/>
<path d="M216.8 531.7L218.1 530.4L219.4 531.7L218.1 533.0Z"/>
<path d="M222.1 532.7L223.4 531.4L224.7 532.7L223.4 534.0Z"/>
<path d="M222.1 535.1L223.4 533.8L224.7 535.1L223.4 536.4Z"/>
<path d="M249.9 532.0L251.2 530.7L252.5 532.0L251.2 533.3Z"/>
<path d="M255.5 533.1L256.8 531.8L258.1 533.1L256.8 534.4Z"/>
<path d="M173.0 535.5L174.3 534.2L175.6 535.5L174.3 536.8Z"/>
<path d="M178.3 539.5L179.6 538.2L180.9 539.5L179.6 540.8Z"/>
<path d="M233.9 536.1L235.2 534.8L236.5 536.1L235.2 537.4Z"/>
<path d="M239.2 539.1L240.5 537.8L241.8 539.1L240.5 540.4Z"/>
<path d="M239.2 542.4L240.5 541.1L241.8 542.4L240.5 543.7Z"/>
<path d="M216.8 540.4L218.1 539.1L219.4 540.4L218.1 541.7Z"/>
<path d="M218.8 542.4L220.1 541.1L221.4 542.4L220.1 543.7Z"/>
<path d="M222.1 540.4L223.4 539.1L224.7 540.4L223.4 541.7Z"/>
<path d="M173.0 543.8L174.3 542.5L175.6 543.8L174.3 545.1Z"/>
<path d="M183.7 545.8L185.0 544.5L186.3 545.8L185.0 547.1Z"/>
<path d="M193.1 542.4L194.4 541.1L195.7 542.4L194.4 543.7Z"/>
<path d="M194.3 547.1L195.6 545.8L196.9 547.1L195.6 548.4Z"/>
<path d="M196.8 544.7L198.1 543.4L199.4 544.7L198.1 546.0Z"/>
<path d="M199.7 542.4L201.0 541.1L202.3 542.4L201.0 543.7Z"/>
<path d="M216.8 548.8L218.1 547.5L219.4 548.8L218.1 550.1Z"/>
<path d="M222.1 550.4L223.4 549.1L224.7 550.4L223.4 551.7Z"/>
<path d="M222.1 552.4L223.4 551.1L224.7 552.4L223.4 553.7Z"/>
<path d="M233.9 551.1L235.2 549.8L236.5 551.1L235.2 552.4Z"/>
<path d="M244.5 547.1L245.8 545.8L247.1 547.1L245.8 548.4Z"/>
<path d="M244.5 552.4L245.8 551.1L247.1 552.4L245.8 553.7Z"/>
<path d="M189.9 551.1L191.2 549.8L192.5 551.1L191.2 552.4Z"/>
<path d="M203.8 553.1L205.1 551.8L206.4 553.1L205.1 554.4Z"/>
<path d="M181.4 554.7L182.7 553.4L184.0 554.7L182.7 556.0Z"/>
<path d="M255.5 556.4L256.8 555.1L258.1 556.4L256.8 557.7Z"/>
<path d="M213.6 554.7L214.9 553.4L216.2 554.7L214.9 556.0Z"/>
<path d="M216.8 556.4L218.1 555.1L219.4 556.4L218.1 557.7Z"/>
<path d="M219.4 558.4L220.7 557.1L222.0 558.4L220.7 559.7Z"/>
<path d="M222.1 560.4L223.4 559.1L224.7 560.4L223.4 561.7Z"/>
<path d="M227.5 558.4L228.8 557.1L230.1 558.4L228.8 559.7Z"/>
<path d="M227.5 561.1L228.8 559.8L230.1 561.1L228.8 562.4Z"/>
<path d="M294.8 484.7L296.1 483.4L297.4 484.7L296.1 486.0Z"/>
<path d="M294.1 496.8L295.4 495.5L296.7 496.8L295.4 498.1Z"/>
<path d="M293.4 499.3L294.7 498.0L296.0 499.3L294.7 500.6Z"/>
<path d="M311.0 502.1L312.3 500.8L313.6 502.1L312.3 503.4Z"/>
<path d="M333.5 502.4L334.8 501.1L336.1 502.4L334.8 503.7Z"/>
<path d="M265.0 508.4L266.3 507.1L267.6 508.4L266.3 509.7Z"/>
<path d="M344.2 507.0L345.5 505.7L346.8 507.0L345.5 508.3Z"/>
<path d="M285.4 519.1L286.7 517.8L288.0 519.1L286.7 520.4Z"/>
<path d="M338.8 523.3L340.1 522.0L341.4 523.3L340.1 524.6Z"/>
<path d="M321.7 525.5L323.0 524.2L324.3 525.5L323.0 526.8Z"/>
<path d="M305.7 527.7L307.0 526.4L308.3 527.7L307.0 529.0Z"/>
<path d="M298.1 529.7L299.4 528.4L300.7 529.7L299.4 531.0Z"/>
<path d="M311.0 530.4L312.3 529.1L313.6 530.4L312.3 531.7Z"/>
<path d="M311.0 533.7L312.3 532.4L313.6 533.7L312.3 535.0Z"/>
<path d="M279.9 532.1L281.2 530.8L282.5 532.1L281.2 533.4Z"/>
<path d="M338.8 537.3L340.1 536.0L341.4 537.3L340.1 538.6Z"/>
<path d="M308.8 543.8L310.1 542.5L311.4 543.8L310.1 545.1Z"/>
<path d="M294.8 545.8L296.1 544.5L297.4 545.8L296.1 547.1Z"/>
<path d="M338.8 547.1L340.1 545.8L341.4 547.1L340.1 548.4Z"/>
<path d="M316.4 551.1L317.7 549.8L319.0 551.1L317.7 552.4Z"/>
<path d="M316.4 554.4L317.7 553.1L319.0 554.4L317.7 555.7Z"/>
<path d="M260.7 552.2L262.0 550.9L263.3 552.2L262.0 553.5Z"/>
<path d="M338.8 559.8L340.1 558.5L341.4 559.8L340.1 561.1Z"/>
<path d="M272.3 562.7L273.6 561.4L274.9 562.7L273.6 564.0Z"/>
<path d="M361.4 487.0L362.7 485.7L364.0 487.0L362.7 488.3Z"/>
<path d="M389.2 491.3L390.5 490.0L391.8 491.3L390.5 492.6Z"/>
<path d="M394.5 493.3L395.8 492.0L397.1 493.3L395.8 494.6Z"/>
<path d="M437.9 487.0L439.2 485.7L440.5 487.0L439.2 488.3Z"/>
<path d="M422.4 495.4L423.7 494.1L425.0 495.4L423.7 496.7Z"/>
<path d="M372.1 498.6L373.4 497.3L374.7 498.6L373.4 499.9Z"/>
<path d="M417.1 500.8L418.4 499.5L419.7 500.8L418.4 502.1Z"/>
<path d="M361.4 502.1L362.7 500.8L364.0 502.1L362.7 503.4Z"/>
<path d="M349.6 504.0L350.9 502.7L352.2 504.0L350.9 505.3Z"/>
<path d="M349.6 509.7L350.9 508.4L352.2 509.7L350.9 511.0Z"/>
<path d="M394.5 510.4L395.8 509.1L397.1 510.4L395.8 511.7Z"/>
<path d="M394.5 512.2L395.8 510.9L397.1 512.2L395.8 513.5Z"/>
<path d="M410.8 517.1L412.1 515.8L413.4 517.1L412.1 518.4Z"/>
<path d="M433.2 524.7L434.5 523.4L435.8 524.7L434.5 526.0Z"/>
<path d="M389.2 537.3L390.5 536.0L391.8 537.3L390.5 538.6Z"/>
<path d="M405.2 537.3L406.5 536.0L407.8 537.3L406.5 538.6Z"/>
<path d="M382.8 539.5L384.1 538.2L385.4 539.5L384.1 540.8Z"/>
<path d="M372.1 543.8L373.4 542.5L374.7 543.8L373.4 545.1Z"/>
<path d="M422.4 545.8L423.7 544.5L425.0 545.8L423.7 547.1Z"/>
<path d="M410.8 547.8L412.1 546.5L413.4 547.8L412.1 549.1Z"/>
<path d="M410.8 550.2L412.1 548.9L413.4 550.2L412.1 551.5Z"/>
<path d="M361.4 549.1L362.7 547.8L364.0 549.1L362.7 550.4Z"/>
<path d="M349.6 555.5L350.9 554.2L352.2 555.5L350.9 556.8Z"/>
<path d="M405.2 555.5L406.5 554.2L407.8 555.5L406.5 556.8Z"/>
<path d="M433.2 555.5L434.5 554.2L435.8 555.5L434.5 556.8Z"/>
<path d="M387.0 558.8L388.3 557.5L389.6 558.8L388.3 560.1Z"/>
<path d="M394.5 559.8L395.8 558.5L397.1 559.8L395.8 561.1Z"/>
<path d="M450.5 489.0L451.8 487.7L453.1 489.0L451.8 490.3Z"/>
<path d="M494.1 512.8L495.4 511.5L496.7 512.8L495.4 514.1Z"/>
<path d="M491.0 526.4L492.3 525.1L493.6 526.4L492.3 527.7Z"/>
<path d="M511.5 525.5L512.8 524.2L514.1 525.5L512.8 526.8Z"/>
<path d="M455.8 532.0L457.1 530.7L458.4 532.0L457.1 533.3Z"/>
<path d="M471.7 537.3L473.0 536.0L474.3 537.3L473.0 538.6Z"/>
<path d="M478.1 541.5L479.4 540.2L480.7 541.5L479.4 542.8Z"/>
<path d="M455.8 543.8L457.1 542.5L458.4 543.8L457.1 545.1Z"/>
<path d="M527.2 539.5L528.5 538.2L529.8 539.5L528.5 540.8Z"/>
<path d="M486.8 548.8L488.1 547.5L489.4 548.8L488.1 550.1Z"/>
<path d="M438.7 554.7L440.0 553.4L441.3 554.7L440.0 556.0Z"/>
<path d="M459.0 560.4L460.3 559.1L461.6 560.4L460.3 561.7Z"/>
<path d="M450.5 561.8L451.8 560.5L453.1 561.8L451.8 563.1Z"/>
<path d="M150.3 565.3L151.6 564.0L152.9 565.3L151.6 566.6Z"/>
<path d="M161.1 558.4L162.4 557.1L163.7 558.4L162.4 559.7Z"/>
<path d="M164.2 558.4L165.5 557.1L166.8 558.4L165.5 559.7Z"/>
<path d="M161.1 561.7L162.4 560.4L163.7 561.7L162.4 563.0Z"/>
<path d="M164.2 561.7L165.5 560.4L166.8 561.7L165.5 563.0Z"/>
<path d="M161.1 564.6L162.4 563.3L163.7 564.6L162.4 565.9Z"/>
<path d="M161.1 576.4L162.4 575.1L163.7 576.4L162.4 577.7Z"/>
<path d="M150.3 577.0L151.6 575.7L152.9 577.0L151.6 578.3Z"/>
<path d="M161.1 585.5L162.4 584.2L163.7 585.5L162.4 586.8Z"/>
<path d="M155.6 587.7L156.9 586.4L158.2 587.7L156.9 589.0Z"/>
<path d="M127.8 586.8L129.1 585.5L130.4 586.8L129.1 588.1Z"/>
<path d="M183.7 562.8L185.0 561.5L186.3 562.8L185.0 564.1Z"/>
<path d="M206.1 564.1L207.4 562.8L208.7 564.1L207.4 565.4Z"/>
<path d="M178.3 565.3L179.6 564.0L180.9 565.3L179.6 566.6Z"/>
<path d="M166.4 567.7L167.7 566.4L169.0 567.7L167.7 569.0Z"/>
<path d="M241.5 566.1L242.8 564.8L244.1 566.1L242.8 567.4Z"/>
<path d="M244.5 570.4L245.8 569.1L247.1 570.4L245.8 571.7Z"/>
<path d="M211.4 569.0L212.7 567.7L214.0 569.0L212.7 570.3Z"/>
<path d="M211.4 571.7L212.7 570.4L214.0 571.7L212.7 573.0Z"/>
<path d="M189.0 576.0L190.3 574.7L191.6 576.0L190.3 577.3Z"/>
<path d="M206.1 576.4L207.4 575.1L208.7 576.4L207.4 577.7Z"/>
<path d="M222.1 577.0L223.4 575.7L224.7 577.0L223.4 578.3Z"/>
<path d="M216.8 577.7L218.1 576.4L219.4 577.7L218.1 579.0Z"/>
<path d="M216.8 580.4L218.1 579.1L219.4 580.4L218.1 581.7Z"/>
<path d="M216.8 583.7L218.1 582.4L219.4 583.7L218.1 585.0Z"/>
<path d="M181.4 582.4L182.7 581.1L184.0 582.4L182.7 583.7Z"/>
<path d="M185.8 582.4L187.1 581.1L188.4 582.4L187.1 583.7Z"/>
<path d="M227.5 589.7L228.8 588.4L230.1 589.7L228.8 591.0Z"/>
<path d="M233.9 598.4L235.2 597.1L236.5 598.4L235.2 599.7Z"/>
<path d="M239.2 601.7L240.5 600.4L241.8 601.7L240.5 603.0Z"/>
<path d="M255.5 599.5L256.8 598.2L258.1 599.5L256.8 600.8Z"/>
<path d="M267.0 566.1L268.3 564.8L269.6 566.1L268.3 567.4Z"/>
<path d="M294.8 569.4L296.1 568.1L297.4 569.4L296.1 570.7Z"/>
<path d="M323.9 569.4L325.2 568.1L326.5 569.4L325.2 570.7Z"/>
<path d="M270.5 573.7L271.8 572.4L273.1 573.7L271.8 575.0Z"/>
<path d="M283.1 577.7L284.4 576.4L285.7 577.7L284.4 579.0Z"/>
<path d="M283.1 580.0L284.4 578.7L285.7 580.0L284.4 581.3Z"/>
<path d="M260.7 581.0L262.0 579.7L263.3 581.0L262.0 582.3Z"/>
<path d="M288.5 585.5L289.8 584.2L291.1 585.5L289.8 586.8Z"/>
<path d="M286.5 603.7L287.8 602.4L289.1 603.7L287.8 605.0Z"/>
<path d="M294.8 603.7L296.1 602.4L297.4 603.7L296.1 605.0Z"/>
<path d="M349.6 579.0L350.9 577.7L352.2 579.0L350.9 580.3Z"/>
<path d="M377.4 594.1L378.7 592.8L380.0 594.1L378.7 595.4Z"/>
<path d="M405.2 587.7L406.5 586.4L407.8 587.7L406.5 589.0Z"/>
<path d="M417.1 579.0L418.4 577.7L419.7 579.0L418.4 580.3Z"/>
<path d="M602.6 506.3L603.9 505.0L605.2 506.3L603.9 507.6Z"/>
<path d="M530.5 505.3L531.8 504.0L533.1 505.3L531.8 506.6Z"/>
<path d="M544.6 529.8L545.9 528.5L547.2 529.8L545.9 531.1Z"/>
<path d="M549.6 534.0L550.9 532.7L552.2 534.0L550.9 535.3Z"/>
<path d="M555.0 544.9L556.3 543.6L557.6 544.9L556.3 546.2Z"/>
<path d="M555.0 559.9L556.3 558.6L557.6 559.9L556.3 561.2Z"/>
<path d="M471.7 565.0L473.0 563.7L474.3 565.0L473.0 566.3Z"/>
<path d="M535.2 562.0L536.5 560.7L537.8 562.0L536.5 563.3Z"/>
<path d="M532.8 566.0L534.1 564.7L535.4 566.0L534.1 567.3Z"/>
<path d="M700.1 477.1L701.4 475.8L702.7 477.1L701.4 478.4Z"/>
<path d="M632.4 521.3L633.7 520.0L635.0 521.3L633.7 522.6Z"/>
<path d="M739.3 574.5L740.6 573.2L741.9 574.5L740.6 575.8Z"/>
</g>
<g fill="#fff" stroke="#333" stroke-width="0.9">
<circle cx="162.4" cy="472.0" r="2.0"/>
<circle cx="201.0" cy="435.5" r="2.0"/>
<circle cx="226.5" cy="472.0" r="2.0"/>
<circle cx="245.8" cy="472.0" r="2.0"/>
<circle cx="256.5" cy="482.4" r="2.0"/>
<circle cx="284.4" cy="472.8" r="2.0"/>
<circle cx="273.6" cy="480.4" r="2.0"/>
<circle cx="462.4" cy="430.1" r="2.0"/>
<circle cx="151.6" cy="535.3" r="2.0"/>
<circle cx="240.5" cy="495.7" r="2.0"/>
<circle cx="210.5" cy="505.3" r="2.0"/>
<circle cx="219.1" cy="518.0" r="2.0"/>
<circle cx="251.2" cy="519.1" r="2.0"/>
<circle cx="182.7" cy="525.5" r="2.0"/>
<circle cx="207.4" cy="524.4" r="2.0"/>
<circle cx="201.0" cy="533.7" r="2.0"/>
<circle cx="174.3" cy="536.9" r="2.0"/>
<circle cx="201.0" cy="548.0" r="2.0"/>
<circle cx="245.8" cy="558.7" r="2.0"/>
<circle cx="269.6" cy="496.4" r="2.0"/>
<circle cx="334.8" cy="500.4" r="2.0"/>
<circle cx="279.1" cy="506.4" r="2.0"/>
<circle cx="340.1" cy="512.4" r="2.0"/>
<circle cx="340.1" cy="514.7" r="2.0"/>
<circle cx="317.7" cy="520.4" r="2.0"/>
<circle cx="334.8" cy="528.8" r="2.0"/>
<circle cx="301.7" cy="542.7" r="2.0"/>
<circle cx="366.0" cy="484.6" r="2.0"/>
<circle cx="350.9" cy="491.3" r="2.0"/>
<circle cx="357.4" cy="490.1" r="2.0"/>
<circle cx="423.7" cy="561.8" r="2.0"/>
<circle cx="445.4" cy="489.0" r="2.0"/>
<circle cx="473.0" cy="497.7" r="2.0"/>
<circle cx="523.5" cy="542.7" r="2.0"/>
<circle cx="467.8" cy="550.2" r="2.0"/>
<circle cx="465.6" cy="557.8" r="2.0"/>
<circle cx="162.4" cy="572.8" r="2.0"/>
<circle cx="156.9" cy="577.7" r="2.0"/>
<circle cx="129.7" cy="592.4" r="2.0"/>
<circle cx="218.1" cy="568.4" r="2.0"/>
<circle cx="185.0" cy="571.0" r="2.0"/>
<circle cx="185.0" cy="574.4" r="2.0"/>
<circle cx="205.4" cy="576.0" r="2.0"/>
<circle cx="296.1" cy="573.7" r="2.0"/>
<circle cx="601.5" cy="489.8" r="2.0"/>
<circle cx="556.3" cy="523.4" r="2.0"/>
<circle cx="617.6" cy="535.0" r="2.0"/>
<circle cx="483.6" cy="564.0" r="2.0"/>
<circle cx="556.7" cy="567.0" r="2.0"/>
<circle cx="645.6" cy="553.5" r="2.0"/>
</g>
</svg>
</body></html>
